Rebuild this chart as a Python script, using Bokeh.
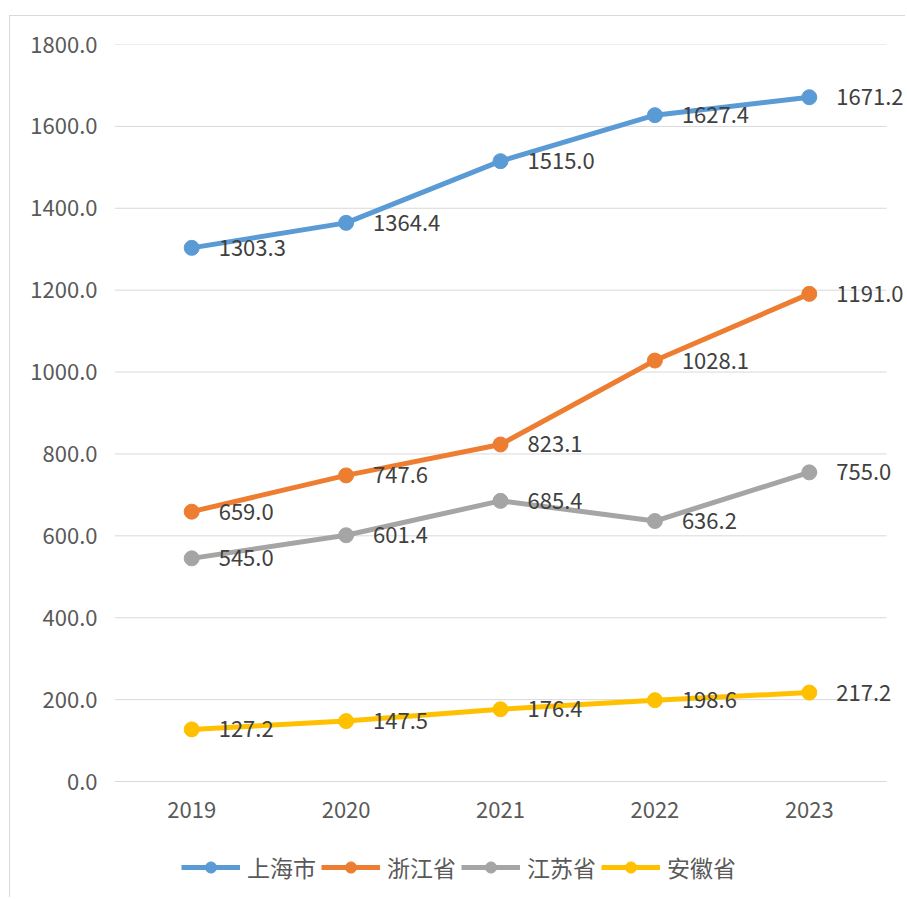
from bokeh.plotting import figure
from bokeh.models import (ColumnDataSource, FixedTicker, NumeralTickFormatter,
                          Legend, LegendItem, Range1d)
from bokeh.core.properties import value
from bokeh.embed import file_html
from bokeh.resources import INLINE

years = ["2019", "2020", "2021", "2022", "2023"]
series_names = ["上海市", "浙江省", "江苏省", "安徽省"]
shanghai = [1303.3, 1364.4, 1515.0, 1627.4, 1671.2]
zhejiang = [659.0, 747.6, 823.1, 1028.1, 1191.0]
jiangsu = [545.0, 601.4, 685.4, 636.2, 755.0]
anhui = [127.2, 147.5, 176.4, 198.6, 217.2]
y_ticks = [0, 200, 400, 600, 800, 1000, 1200, 1400, 1600, 1800]

colors = ["#5B9BD5", "#ED7D31", "#A5A5A5", "#FFC000"]
FONT = "Noto Sans CJK SC"

W, H = 896, 882
LEFT, TOP = 104, 28
PLOT_W, PLOT_H = 772, 737          # pixel size of the value area (gridlines)
frame_w = W - LEFT
frame_h = H - TOP
n = len(years)
# category slots: each year sits at the centre of its slot
xpos = [i + 0.5 for i in range(n)]
x_end = n * frame_w / PLOT_W
y_max = y_ticks[-1]
y_min = y_max - y_max * frame_h / PLOT_H

p = figure(width=W, height=H, x_range=Range1d(0, x_end),
           y_range=Range1d(y_min, y_max), output_backend="svg",
           toolbar_location=None, x_axis_location=None,
           min_border_left=LEFT, min_border_right=0,
           min_border_top=TOP, min_border_bottom=0)
p.styles = {"margin-left": "9px", "margin-top": "15px",
            "border-left": "1px solid #d9d9d9", "border-top": "1px solid #d9d9d9"}
p.outline_line_color = None
p.background_fill_color = "white"
p.border_fill_color = "white"
p.xgrid.visible = False
p.ygrid.visible = False

p.yaxis.ticker = FixedTicker(ticks=y_ticks)
p.yaxis.formatter = NumeralTickFormatter(format="0.0")
p.yaxis.axis_line_color = None
p.yaxis.major_tick_line_color = None
p.yaxis.minor_tick_line_color = None
p.yaxis.major_label_standoff = 11
p.yaxis.major_label_text_font = FONT
p.yaxis.major_label_text_font_size = "22px"
p.yaxis.major_label_text_color = "#595959"

# horizontal gridlines (incl. the category axis line at 0), limited to the value area
p.segment(x0=[0] * len(y_ticks), x1=[n] * len(y_ticks), y0=y_ticks, y1=y_ticks,
          line_color="#d9d9d9", line_width=1)

# category labels under the axis
p.text(x=xpos, y=[0] * n, text=years, y_offset=28, text_align="center",
       text_baseline="middle", text_font=value(FONT), text_font_size="22px",
       text_color="#595959")

items = []
for name, vals, col in zip(series_names, [shanghai, zhejiang, jiangsu, anhui], colors):
    src = ColumnDataSource(dict(x=xpos, y=vals, t=["%.1f" % v for v in vals]))
    r1 = p.line("x", "y", source=src, line_color=col, line_width=5)
    r2 = p.scatter("x", "y", source=src, size=15, fill_color=col, line_color=col)
    p.text("x", "y", text="t", source=src, x_offset=27, text_baseline="middle",
           text_align="left", text_font=value(FONT), text_font_size="22px",
           text_color="#404040")
    items.append(LegendItem(label=name, renderers=[r1, r2]))

legend = Legend(items=items, orientation="horizontal", location=(67, 14),
                glyph_width=59, glyph_height=28, label_height=28,
                label_standoff=7, spacing=5, padding=0, margin=0,
                label_text_font=FONT, label_text_font_size="23px",
                label_text_color="#595959", border_line_color=None,
                background_fill_alpha=0)
p.add_layout(legend, "center")

open("out.html", "w").write(file_html(p, INLINE))
